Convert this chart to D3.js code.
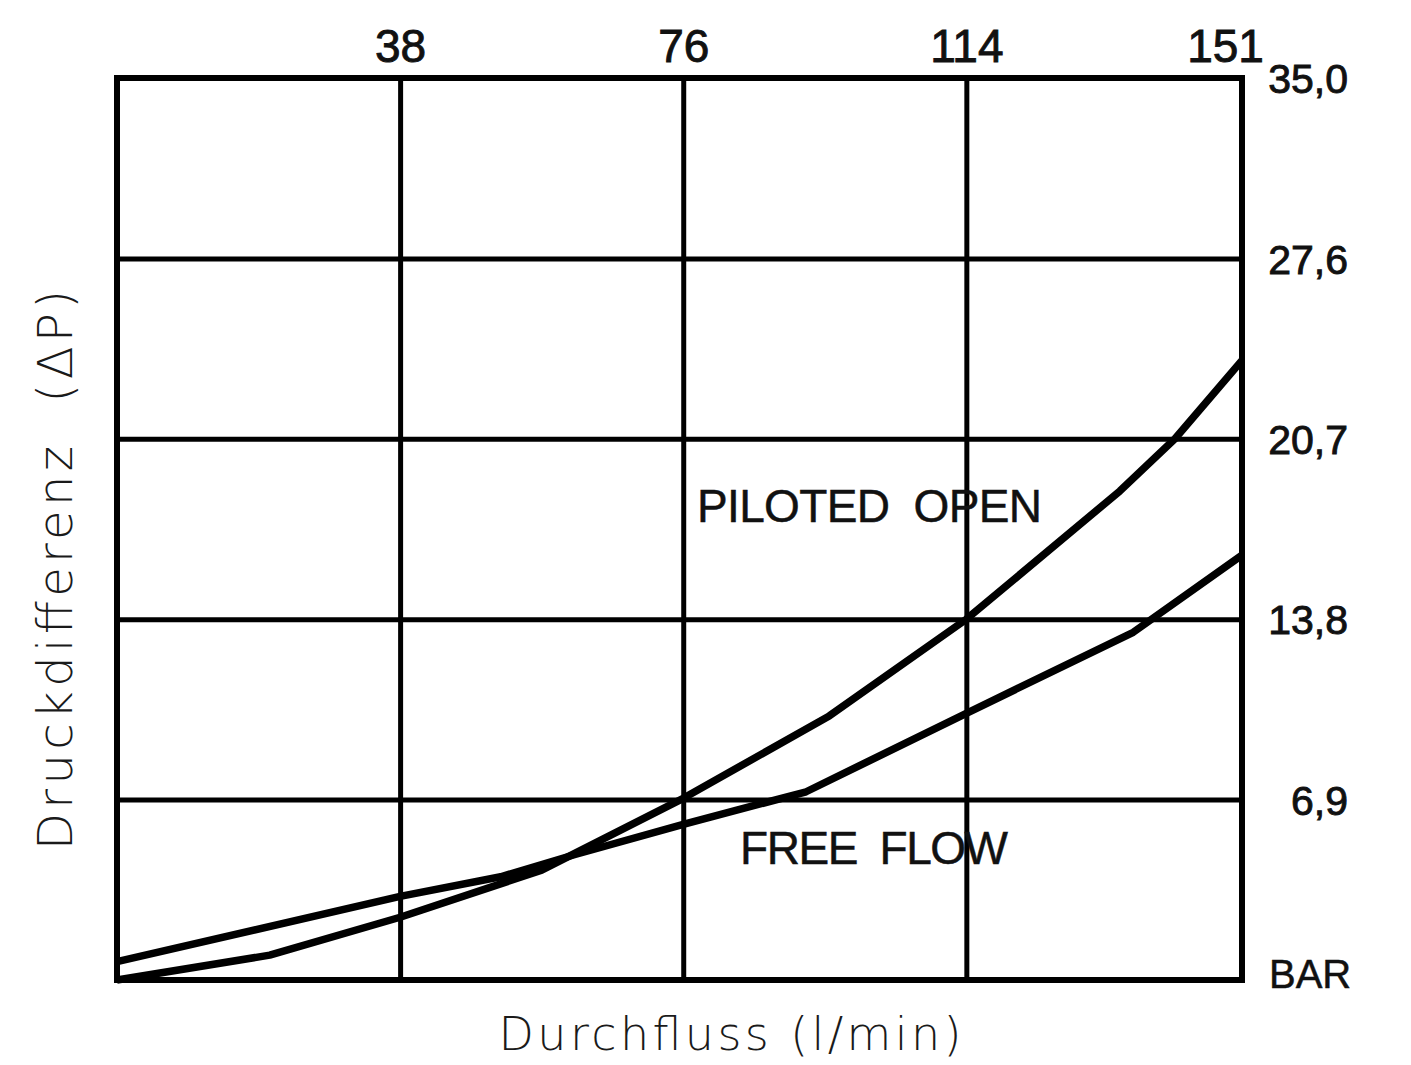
<!DOCTYPE html>
<html>
<head>
<meta charset="utf-8">
<script src="https://cdn.jsdelivr.net/npm/d3@7"></script>
<style>
  body { margin: 0; background: #fff; }
  .tick text { font-family: "Liberation Sans", Arial, sans-serif; fill: #111; stroke: #111; stroke-width: 0.9px; }
  .title { font-family: "DejaVu Sans", sans-serif; font-weight: 300; fill: #1a1a1a; }
  .curve-label { font-family: "Liberation Sans", Arial, sans-serif; fill: #111; stroke: #111; stroke-width: 0.5px; }
</style>
</head>
<body>
<div id="chart"></div>
<script>
// flow (l/min) on the top axis, pressure drop (bar) on the right axis
var xTicks = [38, 76, 114, 151];
var yTicks = [6.9, 13.8, 20.7, 27.6, 34.5];
var yTickLabels = ["6,9", "13,8", "20,7", "27,6", "35,0"];

var pilotedFlow = [0, 20.5, 38, 57, 76, 95.6, 114, 134.6, 142, 151];
var pilotedBar = [0, 0.95, 2.4, 4.2, 6.95, 10.1, 13.8, 18.7, 20.7, 23.7];

var freeFlow = [0, 38, 51.5, 61.5, 76, 92.5, 114, 136.4, 151];
var freeBar = [0.7, 3.2, 3.95, 4.8, 5.95, 7.2, 10.2, 13.3, 16.25];

var svgWidth = 1411;
var svgHeight = 1065;

var margin = { top: 78, right: 169, bottom: 85, left: 117 };
var width = svgWidth - margin.left - margin.right;
var height = svgHeight - margin.top - margin.bottom;

var svg = d3
  .select("#chart")
  .append("svg")
  .attr("width", svgWidth)
  .attr("height", svgHeight);

var chartGroup = svg
  .append("g")
  .attr("transform", `translate(${margin.left}, ${margin.top})`);

var xScale = d3.scaleLinear().domain([0, 151]).range([0, width]);
var yScale = d3.scaleLinear().domain([0, 34.5]).range([height, 0]);

// top axis with full-height grid lines
var topAxis = d3
  .axisTop(xScale)
  .tickValues(xTicks)
  .tickSize(-height)
  .tickPadding(16)
  .tickFormat(d3.format("d"));

var xAxis = chartGroup.append("g").call(topAxis);
xAxis.select(".domain").remove();
xAxis.selectAll(".tick line").attr("stroke", "#000").attr("stroke-width", 5);
xAxis
  .selectAll(".tick text")
  .style("font-size", "46px")
  .attr("dx", (d) => (d === 151 ? -17 : 0));

// right axis with full-width grid lines
var rightAxis = d3
  .axisRight(yScale)
  .tickValues(yTicks)
  .tickSize(-width)
  .tickFormat((d, i) => yTickLabels[i]);

var yAxis = chartGroup
  .append("g")
  .attr("transform", `translate(${width}, 0)`)
  .call(rightAxis);
yAxis.select(".domain").remove();
yAxis.selectAll(".tick line").attr("stroke", "#000").attr("stroke-width", 5);
yAxis
  .selectAll(".tick text")
  .attr("text-anchor", "end")
  .attr("x", 106)
  .attr("dy", "0.36em")
  .style("font-size", "41px");

// frame
chartGroup
  .append("rect")
  .attr("x", 0)
  .attr("y", 0)
  .attr("width", width)
  .attr("height", height)
  .attr("fill", "none")
  .attr("stroke", "#000")
  .attr("stroke-width", 6);

// unit under the right axis
chartGroup
  .append("text")
  .attr("class", "curve-label")
  .attr("x", width + 27)
  .attr("y", height + 8)
  .style("font-size", "40px")
  .text("BAR");

// curves
var line = d3
  .line()
  .x((d) => xScale(d[0]))
  .y((d) => yScale(d[1]));

var curves = [
  d3.zip(pilotedFlow, pilotedBar),
  d3.zip(freeFlow, freeBar),
];

chartGroup
  .selectAll(".curve")
  .data(curves)
  .enter()
  .append("path")
  .attr("class", "curve")
  .attr("d", line)
  .attr("fill", "none")
  .attr("stroke", "#000")
  .attr("stroke-width", 7.5)
  .attr("stroke-linejoin", "round");

// curve labels
chartGroup
  .append("text")
  .attr("class", "curve-label")
  .attr("x", 697 - margin.left)
  .attr("y", 522 - margin.top)
  .attr("textLength", 345)
  .style("font-size", "46px")
  .style("white-space", "pre")
  .text("PILOTED  OPEN");

chartGroup
  .append("text")
  .attr("class", "curve-label")
  .attr("x", 740 - margin.left)
  .attr("y", 864 - margin.top)
  .attr("textLength", 268)
  .style("font-size", "46px")
  .style("white-space", "pre")
  .text("FREE  FLOW");

// axis titles
svg
  .append("text")
  .attr("class", "title")
  .attr("x", 730)
  .attr("y", 1050)
  .attr("text-anchor", "middle")
  .attr("textLength", 463)
  .style("font-size", "46px")
  .text("Durchfluss (l/min)");

svg
  .append("text")
  .attr("class", "title")
  .attr("transform", "translate(72, 570) rotate(-90)")
  .attr("text-anchor", "middle")
  .attr("textLength", 560)
  .style("font-size", "48px")
  .style("white-space", "pre")
  .text("Druckdifferenz  (ΔP)");
</script>
</body>
</html>
